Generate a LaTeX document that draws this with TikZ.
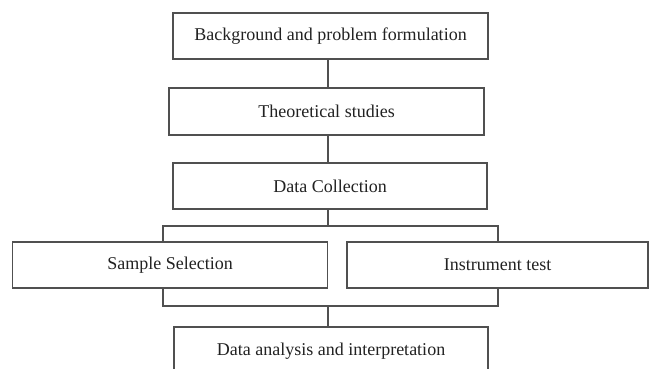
\documentclass[tikz,border=0pt]{standalone}
\usepackage{fontspec}
\setmainfont{Liberation Serif}
\begin{document}
\begin{tikzpicture}[x=1pt,y=-1pt,
  box/.style={draw=linegray, line width=1.2pt, fill=white, inner sep=0pt,
    minimum height=46pt, text=textgray, font=\fontsize{18}{21}\selectfont},
  conn/.style={draw=linegray, line width=1.2pt}]
\definecolor{linegray}{HTML}{505050}
\definecolor{textgray}{HTML}{222222}
\useasboundingbox (0,0) rectangle (652,368);
\coordinate (spine) at (328,0);
% bracket behind the two parallel boxes
\node[draw=linegray, line width=1.2pt, minimum width=335pt, minimum height=80pt, inner sep=0pt] (br) at (330.5,266) {};
\node[box, minimum width=315pt] (b1) at (330.5,36) {Background and problem formulation};
\node[box, minimum width=315pt, minimum height=47pt] (b2) at (326.5,111.5) {Theoretical studies};
\node[box, minimum width=314pt] (b3) at (330,186) {Data Collection};
\node[box, minimum width=315pt] (b4) at (170.2,265) {Sample Selection};
\node[box, minimum width=301pt] (b5) at (497.5,265) {Instrument test};
\node[box, minimum width=314pt, minimum height=48pt] (b6) at (331,351) {Data analysis and interpretation};
\draw[conn] (b1.south -| spine) -- (b2.north -| spine);
\draw[conn] (b2.south -| spine) -- (b3.north -| spine);
\draw[conn] (b3.south -| spine) -- (br.north -| spine);
\draw[conn] (br.south -| spine) -- (b6.north -| spine);
\end{tikzpicture}
\end{document}
